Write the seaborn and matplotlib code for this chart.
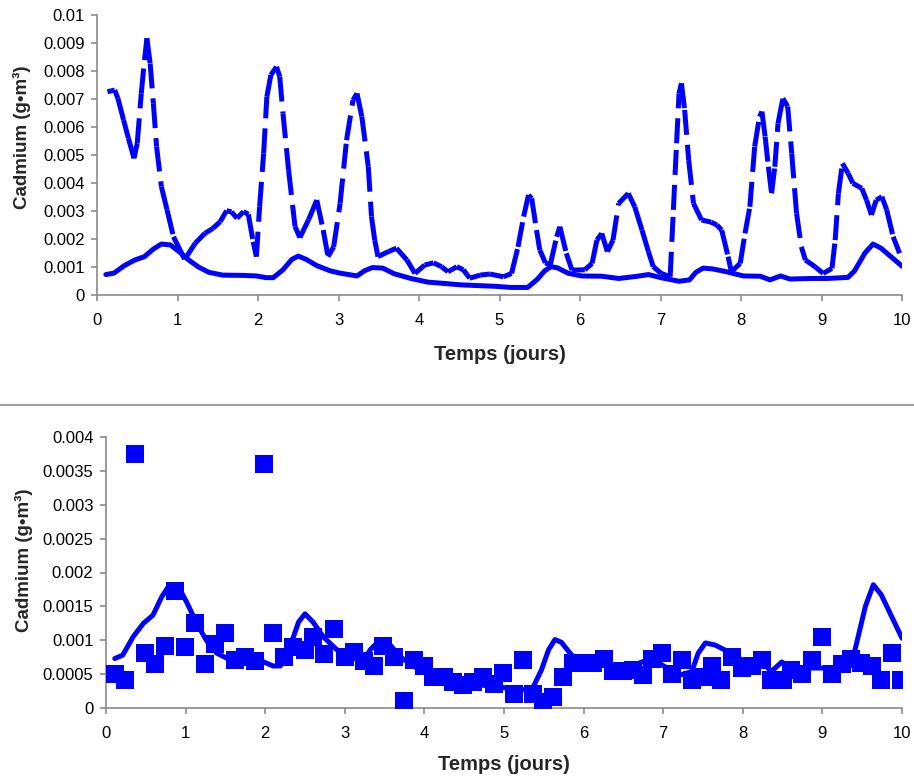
import numpy as np
import pandas as pd
import matplotlib
matplotlib.use("Agg")
import matplotlib.pyplot as plt
from matplotlib.lines import Line2D
import seaborn as sns

# -----------------------
# DATA (time in days, cadmium in g/m3)
# -----------------------
# model curve (same in both panels)
model_t = [0.11, 0.21, 0.34, 0.47, 0.59, 0.70, 0.80, 0.91, 1.01, 1.14, 1.26, 1.39, 1.56,
           1.81, 1.98, 2.10, 2.19, 2.31, 2.42, 2.50, 2.60, 2.73, 2.90, 3.02, 3.23, 3.32,
           3.42, 3.55, 3.69, 3.90, 4.11, 4.53, 4.95, 5.14, 5.35, 5.47, 5.56, 5.64, 5.72,
           5.85, 6.02, 6.27, 6.48, 6.69, 6.85, 7.02, 7.23, 7.36, 7.44, 7.53, 7.65, 7.82,
           8.03, 8.24, 8.36, 8.49, 8.61, 8.87, 9.07, 9.33, 9.41, 9.54, 9.64, 9.74, 10.0]
model_c = [0.00073, 0.00078, 0.00105, 0.00125, 0.00137, 0.00164, 0.00182, 0.00179, 0.00157,
           0.00125, 0.00100, 0.00081, 0.00071, 0.00070, 0.00068, 0.00062, 0.00062, 0.00090,
           0.00127, 0.00139, 0.00127, 0.00105, 0.00086, 0.00078, 0.00068, 0.00086, 0.00098,
           0.00096, 0.00076, 0.00059, 0.00046, 0.00036, 0.00031, 0.00027, 0.00027, 0.00056,
           0.00086, 0.00101, 0.00097, 0.00078, 0.00068, 0.00067, 0.00059, 0.00066, 0.00073,
           0.00061, 0.00049, 0.00054, 0.00081, 0.00096, 0.00093, 0.00083, 0.00068, 0.00067,
           0.00054, 0.00068, 0.00057, 0.00059, 0.00059, 0.00063, 0.00086, 0.00150, 0.00182,
           0.00167, 0.00103]

# second simulation (top panel, broken line)
sim_t = [0.13, 0.22, 0.26, 0.33, 0.39, 0.46, 0.50, 0.55, 0.59, 0.62, 0.66, 0.70, 0.74, 0.80,
         0.87, 0.95, 1.09, 1.22, 1.34, 1.44, 1.53, 1.61, 1.67, 1.74, 1.82, 1.88, 1.94, 1.98,
         2.02, 2.07, 2.11, 2.16, 2.23, 2.27, 2.31, 2.38, 2.46, 2.52, 2.63, 2.73, 2.81, 2.87,
         2.94, 3.02, 3.10, 3.18, 3.23, 3.29, 3.37, 3.41, 3.45, 3.49, 3.62, 3.72, 3.85, 3.95,
         4.07, 4.18, 4.28, 4.36, 4.47, 4.55, 4.63, 4.76, 4.88, 5.05, 5.15, 5.23, 5.30, 5.36,
         5.40, 5.46, 5.50, 5.57, 5.63, 5.71, 5.75, 5.83, 5.90, 6.06, 6.15, 6.21, 6.27, 6.34,
         6.41, 6.48, 6.60, 6.68, 6.77, 6.85, 6.91, 7.01, 7.12, 7.16, 7.20, 7.23, 7.26, 7.30,
         7.35, 7.41, 7.51, 7.63, 7.70, 7.76, 7.84, 7.88, 7.99, 8.05, 8.11, 8.17, 8.23, 8.26,
         8.30, 8.34, 8.38, 8.42, 8.46, 8.52, 8.58, 8.63, 8.69, 8.75, 8.80, 8.92, 9.02, 9.13,
         9.17, 9.21, 9.26, 9.33, 9.39, 9.50, 9.56, 9.62, 9.68, 9.75, 9.81, 9.89, 9.97]
sim_c = [0.00726, 0.00732, 0.00702, 0.00625, 0.00560, 0.00488, 0.00542, 0.00720, 0.00839,
         0.00917, 0.00827, 0.00685, 0.00530, 0.00387, 0.00304, 0.00208, 0.00127, 0.00185,
         0.00220, 0.00238, 0.00262, 0.00301, 0.00297, 0.00274, 0.00298, 0.00288, 0.00190,
         0.00137, 0.00315, 0.00506, 0.00708, 0.00786, 0.00815, 0.00780, 0.00649, 0.00446,
         0.00244, 0.00205, 0.00270, 0.00339, 0.00232, 0.00137, 0.00172, 0.00327, 0.00553,
         0.00696, 0.00720, 0.00637, 0.00458, 0.00280, 0.00196, 0.00137, 0.00155, 0.00167,
         0.00125, 0.00077, 0.00107, 0.00115, 0.00101, 0.00083, 0.00101, 0.00090, 0.00060,
         0.00071, 0.00075, 0.00065, 0.00077, 0.00172, 0.00280, 0.00357, 0.00345, 0.00232,
         0.00161, 0.00115, 0.00107, 0.00208, 0.00244, 0.00149, 0.00089, 0.00090, 0.00113,
         0.00196, 0.00220, 0.00155, 0.00196, 0.00327, 0.00363, 0.00315, 0.00232, 0.00155,
         0.00101, 0.00077, 0.00065, 0.00304, 0.00542, 0.00720, 0.00756, 0.00661, 0.00482,
         0.00327, 0.00268, 0.00260, 0.00250, 0.00232, 0.00137, 0.00083, 0.00113, 0.00220,
         0.00315, 0.00530, 0.00637, 0.00655, 0.00565, 0.00458, 0.00363, 0.00458, 0.00613,
         0.00702, 0.00673, 0.00506, 0.00292, 0.00172, 0.00125, 0.00101, 0.00077, 0.00095,
         0.00196, 0.00363, 0.00470, 0.00435, 0.00399, 0.00381, 0.00339, 0.00286, 0.00339,
         0.00351, 0.00304, 0.00208, 0.00149]

# measurements (bottom panel)
obs_t = [0.11, 0.24, 0.36, 0.49, 0.62, 0.74, 0.87, 0.99, 1.12, 1.24, 1.37, 1.49, 1.62, 1.75,
         1.87, 1.99, 2.10, 2.23, 2.35, 2.50, 2.60, 2.74, 2.86, 3.00, 3.12, 3.24, 3.37, 3.48,
         3.62, 3.74, 3.87, 4.00, 4.11, 4.24, 4.36, 4.49, 4.61, 4.74, 4.87, 4.99, 5.12, 5.24,
         5.37, 5.49, 5.62, 5.74, 5.87, 5.99, 6.12, 6.25, 6.37, 6.50, 6.62, 6.75, 6.86, 6.98,
         7.11, 7.23, 7.36, 7.50, 7.61, 7.73, 7.87, 7.99, 8.12, 8.24, 8.36, 8.50, 8.61, 8.74,
         8.87, 8.99, 9.12, 9.24, 9.36, 9.49, 9.62, 9.74, 9.87, 9.99]
obs_c = [0.00050, 0.00041, 0.00375, 0.00081, 0.00065, 0.00091, 0.00172, 0.00090, 0.00125,
         0.00065, 0.00095, 0.00110, 0.00071, 0.00076, 0.00070, 0.00360, 0.00110, 0.00076,
         0.00090, 0.00086, 0.00105, 0.00080, 0.00116, 0.00076, 0.00082, 0.00070, 0.00062,
         0.00092, 0.00076, 0.00011, 0.00071, 0.00062, 0.00046, 0.00046, 0.00039, 0.00034,
         0.00039, 0.00046, 0.00035, 0.00051, 0.00021, 0.00071, 0.00021, 0.00009, 0.00016,
         0.00046, 0.00067, 0.00067, 0.00067, 0.00072, 0.00054, 0.00054, 0.00056, 0.00049,
         0.00072, 0.00081, 0.00050, 0.00071, 0.00041, 0.00046, 0.00062, 0.00041, 0.00076,
         0.00059, 0.00062, 0.00071, 0.00041, 0.00041, 0.00056, 0.00050, 0.00071, 0.00105,
         0.00050, 0.00065, 0.00072, 0.00067, 0.00062, 0.00041, 0.00081, 0.00041]

x_ticks = [0, 1, 2, 3, 4, 5, 6, 7, 8, 9, 10]
y1_ticks = [0, 0.001, 0.002, 0.003, 0.004, 0.005, 0.006, 0.007, 0.008, 0.009, 0.01]
y1_labels = ["0", "0.001", "0.002", "0.003", "0.004", "0.005", "0.006", "0.007",
             "0.008", "0.009", "0.01"]
y2_ticks = [0, 0.0005, 0.001, 0.0015, 0.002, 0.0025, 0.003, 0.0035, 0.004]
y2_labels = ["0", "0.0005", "0.001", "0.0015", "0.002", "0.0025", "0.003", "0.0035", "0.004"]

xlabel = "Temps (jours)"
ylabel = "Cadmium (g\u2022m\u00b3)"

# -----------------------
# STYLE
# -----------------------
sns.set_style("ticks")
plt.rcParams["font.family"] = ["Liberation Sans", "DejaVu Sans"]

BLUE = "#0000FF"
GREY = "#8a8a8a"
LW = 3.6

fig = plt.figure(figsize=(9.14, 7.81), dpi=100)
ax1 = fig.add_axes([97 / 914, 1 - 295 / 781, 805 / 914, 280 / 781])
ax2 = fig.add_axes([106 / 914, 1 - 708 / 781, 796 / 914, 271 / 781])

# -----------------------
# TOP PANEL
# -----------------------
# one line per segment so the dash pattern restarts at every point (Excel look)
n = len(sim_t)
seg = pd.DataFrame({
    "t": np.repeat(sim_t, 2)[1:-1],
    "c": np.repeat(sim_c, 2)[1:-1],
    "seg": np.repeat(np.arange(n - 1), 2),
})
sns.lineplot(data=seg, x="t", y="c", units="seg", estimator=None, color=BLUE,
             lw=LW, linestyle=(0, (5, 2)), dash_capstyle="butt",
             solid_capstyle="round", ax=ax1, legend=False)
sns.lineplot(x=model_t, y=model_c, estimator=None, sort=False, color=BLUE, lw=LW,
             solid_capstyle="round", ax=ax1)

# -----------------------
# BOTTOM PANEL
# -----------------------
sns.lineplot(x=model_t, y=model_c, estimator=None, sort=False, color=BLUE, lw=LW,
             solid_capstyle="round", ax=ax2)
sns.scatterplot(x=obs_t, y=obs_c, marker="s", s=150, color=BLUE, linewidth=0,
                ax=ax2, zorder=3)

# -----------------------
# AXES
# -----------------------
for ax, yt, yl, ymax, lab_x, lab_y in [(ax1, y1_ticks, y1_labels, 0.01, -0.093, 0.564),
                                       (ax2, y2_ticks, y2_labels, 0.004, -0.103, 0.546)]:
    ax.set_xlim(0, 10)
    ax.set_ylim(0, ymax)
    ax.set_xticks(x_ticks)
    ax.set_xticklabels([str(v) for v in x_ticks])
    ax.set_yticks(yt)
    ax.set_yticklabels(yl)
    sns.despine(ax=ax)
    for s in ["left", "bottom"]:
        ax.spines[s].set_color(GREY)
        ax.spines[s].set_linewidth(1.2)
    ax.tick_params(direction="out", length=4, width=1.2, color=GREY,
                   labelsize=12, labelcolor="black")
    ax.tick_params(axis="x", pad=9)
    ax.tick_params(axis="y", pad=5)
    ax.set_xlabel(xlabel, fontsize=14.5, fontweight="bold", va="center")
    ax.set_ylabel(ylabel, fontsize=13.5, fontweight="bold", va="center")
    ax.yaxis.set_label_coords(lab_x, lab_y)

ax1.xaxis.set_label_coords(0.5, -0.214)
ax2.xaxis.set_label_coords(0.5, -0.21)

# separator between the two charts
fig.add_artist(Line2D([0, 1], [1 - 405 / 781, 1 - 405 / 781], transform=fig.transFigure,
                      color=GREY, lw=1.2))

fig.savefig("out.png", dpi=100)
